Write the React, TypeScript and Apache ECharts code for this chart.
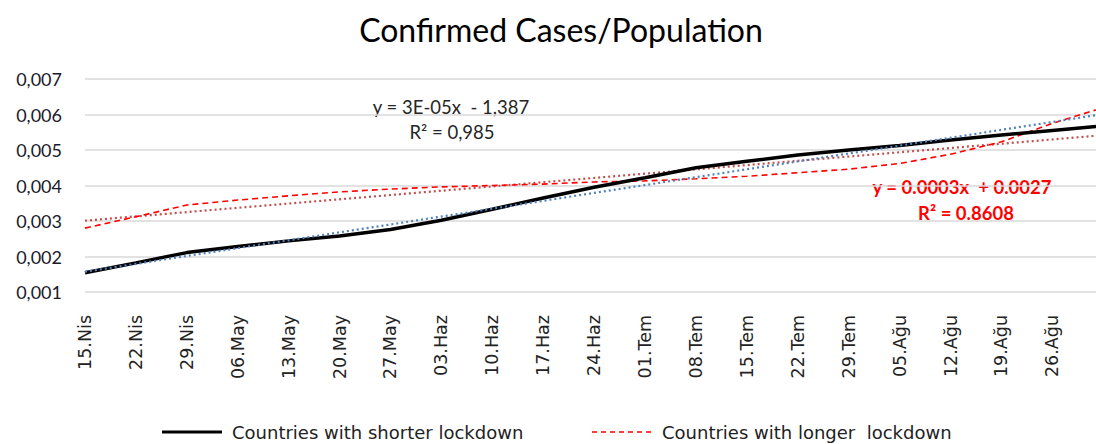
import React, { useEffect, useRef } from "react";
import * as echarts from "echarts";

const weekLabels = ["15.Nis", "22.Nis", "29.Nis", "06.May", "13.May", "20.May", "27.May", "03.Haz", "10.Haz", "17.Haz", "24.Haz", "01.Tem", "08.Tem", "15.Tem", "22.Tem", "29.Tem", "05.Ağu", "12.Ağu", "19.Ağu", "26.Ağu"];
const dayOffsets = [0, 7, 14, 21, 28, 35, 42, 49, 56, 63, 70, 77, 84, 91, 98, 105, 112, 119, 126, 133, 139];
const shorter = [0.00154, 0.00182, 0.00211, 0.00228, 0.00244, 0.00258, 0.00276, 0.00302, 0.00333, 0.00365, 0.00395, 0.00422, 0.0045, 0.00468, 0.00486, 0.005, 0.00513, 0.00528, 0.00542, 0.00555, 0.00566];
const longer = [0.0028, 0.00312, 0.00345, 0.00359, 0.00371, 0.00382, 0.0039, 0.00396, 0.004, 0.00404, 0.0041, 0.00413, 0.00419, 0.00426, 0.00436, 0.00446, 0.00462, 0.00488, 0.00523, 0.00575, 0.00613];
const trendDays = [0, 139];
const shorterTrend = [0.00157, 0.00598];
const longerTrend = [0.00301, 0.0054];
const yTicks = { min: 0.001, max: 0.007, step: 0.001 };

const SHORT = "Countries with shorter lockdown";
const LONG = "Countries with longer  lockdown";

function pairs(xs: number[], ys: number[]) {
  return ys.map((y, i) => [xs[i], y]);
}

export default function App() {
  const ref = useRef<HTMLDivElement>(null);
  useEffect(() => {
    if (!ref.current) return;
    const chart = echarts.init(ref.current, null, { renderer: "svg" });
    const legendFont = { fontFamily: "DejaVu Sans", fontSize: 18, fill: "#222", verticalAlign: "middle" as const };
    chart.setOption({
      animation: false,
      backgroundColor: "#ffffff",
      title: {
        text: "Confirmed Cases/Population",
        left: 556,
        textAlign: "center",
        top: 8,
        textStyle: { fontFamily: "Lato", fontSize: 32, fontWeight: "normal", color: "#000" },
      },
      grid: { left: 85, right: 0, top: 79, bottom: 152, containLabel: false },
      xAxis: {
        type: "value",
        min: 0,
        max: 139,
        interval: 7,
        axisLine: { show: false },
        axisTick: { show: false },
        splitLine: { show: false },
        axisLabel: {
          rotate: 90,
          margin: 23,
          fontFamily: "DejaVu Sans",
          fontSize: 17.5,
          color: "#222",
          showMaxLabel: false,
          formatter: (v: number) => {
            const i = Math.round(v / 7);
            return Math.abs(v - i * 7) < 1e-6 && weekLabels[i] ? weekLabels[i] : "";
          },
        },
      },
      yAxis: {
        type: "value",
        min: yTicks.min,
        max: yTicks.max,
        interval: yTicks.step,
        axisLine: { show: false },
        axisTick: { show: false },
        splitLine: { lineStyle: { color: "#d9d9d9", width: 1.5 } },
        axisLabel: {
          margin: 23,
          fontFamily: "Lato",
          fontSize: 18,
          color: "#1a1a2a",
          formatter: (v: number) => v.toFixed(3).replace(".", ","),
        },
      },
      series: [
        {
          name: LONG,
          type: "line",
          symbol: "none",
          data: pairs(dayOffsets, longer),
          lineStyle: { color: "#ff0000", width: 1.6, type: [6, 4] },
          z: 3,
        },
        {
          name: "longerTrend",
          type: "line",
          symbol: "none",
          data: pairs(trendDays, longerTrend),
          lineStyle: { color: "#c0504d", width: 2.2, type: [2, 3] },
          z: 2,
        },
        {
          name: SHORT,
          type: "line",
          symbol: "none",
          data: pairs(dayOffsets, shorter),
          lineStyle: { color: "#000000", width: 3.5 },
          z: 4,
        },
        {
          name: "shorterTrend",
          type: "line",
          symbol: "none",
          data: pairs(trendDays, shorterTrend),
          lineStyle: { color: "#4f81bd", width: 2.2, type: [2, 3] },
          z: 5,
        },
      ],
      graphic: [
        {
          type: "text",
          x: 451,
          y: 107,
          style: { text: "y = 3E-05x  - 1,387", fontFamily: "Lato", fontSize: 18.5, fill: "#262626", align: "center", verticalAlign: "middle" },
        },
        {
          type: "text",
          x: 452,
          y: 132,
          style: { text: "R² = 0,985", fontFamily: "Lato", fontSize: 18.5, fill: "#262626", align: "center", verticalAlign: "middle" },
        },
        {
          type: "text",
          x: 962,
          y: 187,
          style: { text: "y = 0.0003x  + 0.0027", fontFamily: "Lato", fontSize: 18.5, fontWeight: "bold", fill: "#ff0000", align: "center", verticalAlign: "middle" },
        },
        {
          type: "text",
          x: 966,
          y: 213,
          style: { text: "R² = 0.8608", fontFamily: "Lato", fontSize: 18.5, fontWeight: "bold", fill: "#ff0000", align: "center", verticalAlign: "middle" },
        },
        {
          type: "line",
          shape: { x1: 162, y1: 432, x2: 222, y2: 432 },
          style: { stroke: "#000", lineWidth: 3 },
        },
        { type: "text", x: 232, y: 432, style: { text: SHORT, ...legendFont } },
        {
          type: "line",
          shape: { x1: 592, y1: 432, x2: 652, y2: 432 },
          style: { stroke: "#ff0000", lineWidth: 1.5, lineDash: [5, 4] },
        },
        { type: "text", x: 662, y: 432, style: { text: LONG, ...legendFont } },
      ],
    });
    return () => chart.dispose();
  }, []);
  return <div ref={ref} style={{ position: "fixed", left: 0, top: 0, width: 1096, height: 444 }} />;
}
